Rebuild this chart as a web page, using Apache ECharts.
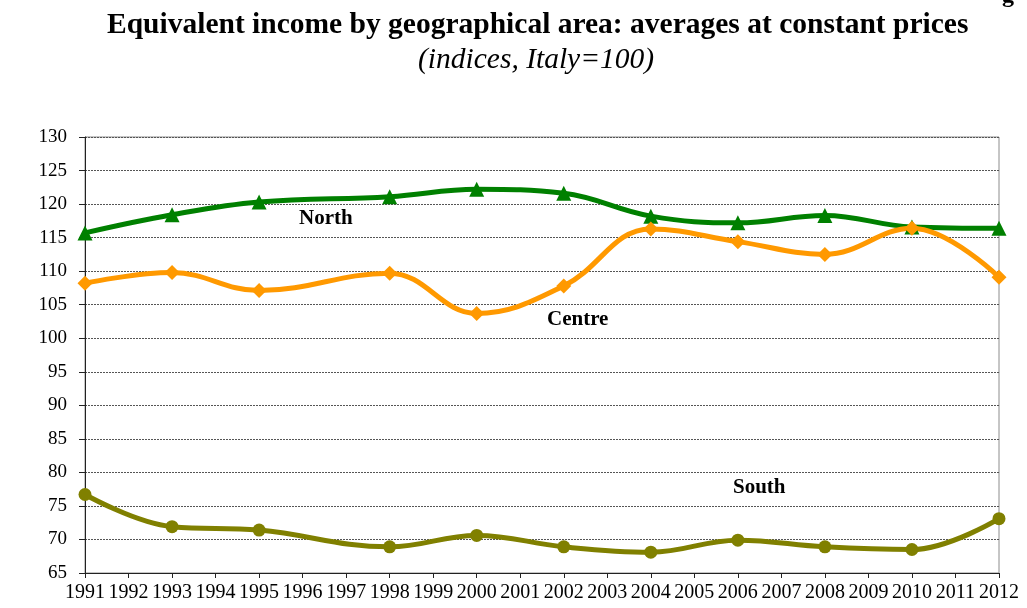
<!DOCTYPE html>
<html>
<head>
<meta charset="utf-8">
<script src="https://cdn.jsdelivr.net/npm/echarts@6/dist/echarts.min.js"></script>
<style>
  html, body { margin: 0; padding: 0; background: #fff; }
  #chart { width: 1027px; height: 608px; }
</style>
</head>
<body>
<div id="chart"></div>
<script>
// Survey years and index values (Italy = 100)
const years = [1991, 1993, 1995, 1998, 2000, 2002, 2004, 2006, 2008, 2010, 2012];
const north  = [115.7, 118.4, 120.3, 121.1, 122.2, 121.6, 118.2, 117.2, 118.3, 116.6, 116.4];
const centre = [108.2, 109.8, 107.1, 109.7, 103.7, 107.8, 116.3, 114.4, 112.5, 116.4, 109.1];
const south  = [76.7, 71.9, 71.4, 68.9, 70.6, 68.9, 68.1, 69.9, 68.9, 68.5, 73.1];
const yTicks = { min: 65, max: 130, step: 5 };
const xRange = { min: 1991, max: 2012 };

const serif = '"Liberation Serif", "Times New Roman", serif';
const pair = arr => years.map((y, i) => [y, arr[i]]);

const chart = echarts.init(document.getElementById('chart'), null, { renderer: 'canvas' });

const option = {
  backgroundColor: '#ffffff',
  animation: false,
  title: [
    {
      text: 'Equivalent income by geographical area: averages at constant prices',
      left: 102, top: 5,
      textStyle: { fontFamily: serif, fontWeight: 'bold', fontSize: 29.5, color: '#000' }
    },
    {
      text: '(indices, Italy=100)',
      left: 413, top: 40,
      textStyle: { fontFamily: serif, fontStyle: 'italic', fontWeight: 'normal', fontSize: 29.5, color: '#000' }
    }
  ],
  grid: { left: 85, right: 28, top: 137, bottom: 35, show: true, borderColor: '#8c8c8c', borderWidth: 1 },
  xAxis: {
    type: 'value',
    min: xRange.min, max: xRange.max, interval: 1,
    axisLine: { show: true, onZero: false, lineStyle: { color: '#222', width: 1 } },
    axisTick: { show: true, length: 5, lineStyle: { color: '#222' } },
    axisLabel: { formatter: v => String(v), fontFamily: serif, fontSize: 20, color: '#000', margin: 10 },
    splitLine: { show: false }
  },
  yAxis: {
    type: 'value',
    min: yTicks.min, max: yTicks.max, interval: yTicks.step,
    axisLine: { show: true, lineStyle: { color: '#222', width: 1 } },
    axisTick: { show: true, length: 6, lineStyle: { color: '#222' } },
    axisLabel: { fontFamily: serif, fontSize: 19, color: '#000', margin: 18 },
    splitLine: { show: true, lineStyle: { color: '#555', type: [2, 1], width: 1 } }
  },
  series: [
    {
      name: 'North', type: 'line', data: pair(north), smooth: 0.4,
      symbol: 'triangle', symbolSize: 15,
      lineStyle: { color: '#008000', width: 5 },
      itemStyle: { color: '#008000' }
    },
    {
      name: 'Centre', type: 'line', data: pair(centre), smooth: 0.4,
      symbol: 'diamond', symbolSize: 15,
      lineStyle: { color: '#FF9900', width: 5 },
      itemStyle: { color: '#FF9900' }
    },
    {
      name: 'South', type: 'line', data: pair(south), smooth: 0.4,
      symbol: 'circle', symbolSize: 13,
      lineStyle: { color: '#808000', width: 5 },
      itemStyle: { color: '#808000' }
    }
  ],
  graphic: [
    { type: 'text', left: 1002, top: -16, style: { text: 'g', font: 'bold 24px ' + serif, fill: '#000' } },
    { type: 'text', left: 299, top: 208, style: { text: 'North', font: 'bold 21px ' + serif, fill: '#000' } },
    { type: 'text', left: 547, top: 309, style: { text: 'Centre', font: 'bold 21px ' + serif, fill: '#000' } },
    { type: 'text', left: 733, top: 477, style: { text: 'South', font: 'bold 21px ' + serif, fill: '#000' } }
  ]
};

chart.setOption(option);
</script>
</body>
</html>
